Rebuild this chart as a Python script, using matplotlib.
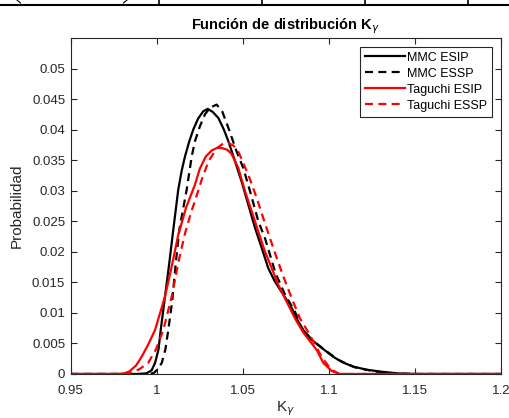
import matplotlib
matplotlib.use("Agg")
import matplotlib.pyplot as plt
from matplotlib.lines import Line2D

plt.rcParams['font.family'] = ['Liberation Sans', 'DejaVu Sans']

# MMC ESIP (black solid)
k_mmc_esip = [0.95, 0.990, 0.994, 0.997, 0.999, 1.0010, 1.0023, 1.0048, 1.0073, 1.0096, 1.0125,
              1.0145, 1.0164, 1.0188, 1.0212, 1.0240, 1.0270, 1.0296, 1.0325, 1.0358, 1.0390,
              1.0416, 1.0455, 1.0493, 1.0532, 1.0571, 1.0610, 1.0648, 1.0687, 1.0735, 1.0784,
              1.0822, 1.0851, 1.0900, 1.0948, 1.1026, 1.1080, 1.1142, 1.1220, 1.1297, 1.14,
              1.15, 1.2]
p_mmc_esip = [0.0, 0.0, 0.0001, 0.0006, 0.0018, 0.0040, 0.0072, 0.0127, 0.0182, 0.0236, 0.0302,
              0.0333, 0.0356, 0.0380, 0.0400, 0.0418, 0.0430, 0.0434, 0.0429, 0.0419, 0.0400,
              0.0381, 0.0348, 0.0315, 0.0277, 0.0239, 0.0206, 0.0173, 0.0151, 0.0130, 0.0108,
              0.0086, 0.0072, 0.0056, 0.0045, 0.0028, 0.0019, 0.0012, 0.0007, 0.0004, 0.0001,
              0.0, 0.0]

# MMC ESSP (black dashed)
k_mmc_essp = [0.95, 0.996, 0.9985, 1.0005, 1.0029, 1.0050, 1.0067, 1.0090, 1.0110, 1.0131, 1.0174,
              1.0203, 1.0222, 1.0250, 1.0280, 1.0310, 1.0348, 1.0380, 1.0416, 1.0464, 1.0503,
              1.0542, 1.0590, 1.0629, 1.0690, 1.0745, 1.0803, 1.0841, 1.0900, 1.0977, 1.1055,
              1.1150, 1.1250, 1.1350, 1.15, 1.2]
p_mmc_essp = [0.0, 0.0, 0.0002, 0.0008, 0.0018, 0.0040, 0.0072, 0.0120, 0.0180, 0.0236, 0.0302,
              0.0356, 0.0381, 0.0405, 0.0425, 0.0436, 0.0441, 0.0430, 0.0403, 0.0364, 0.0337,
              0.0299, 0.0250, 0.0222, 0.0165, 0.0130, 0.0102, 0.0075, 0.0056, 0.0039, 0.0023,
              0.0011, 0.0005, 0.0001, 0.0, 0.0]

# Taguchi ESIP (red solid)
k_tag_esip = [0.95, 0.978, 0.981, 0.984, 0.988, 0.9912, 0.9950, 0.9990, 1.0048, 1.0090, 1.0125,
              1.0170, 1.0222, 1.0250, 1.0285, 1.0320, 1.0350, 1.0377, 1.0410, 1.0435, 1.0474,
              1.0513, 1.0552, 1.0590, 1.0629, 1.0668, 1.0706, 1.0764, 1.0803, 1.0851, 1.0930,
              1.0968, 1.1016, 1.1060, 1.2]
p_tag_esip = [0.0, 0.0, 0.0001, 0.0004, 0.0014, 0.0028, 0.0048, 0.0072, 0.0127, 0.0180, 0.0228,
              0.0272, 0.0310, 0.0336, 0.0356, 0.0366, 0.0370, 0.0370, 0.0367, 0.0360, 0.0337,
              0.0299, 0.0266, 0.0233, 0.0200, 0.0173, 0.0146, 0.0113, 0.0091, 0.0068, 0.0039,
              0.0018, 0.0005, 0.0, 0.0]

# Taguchi ESSP (red dashed)
k_tag_essp = [0.95, 0.982, 0.986, 0.990, 0.995, 0.9995, 1.0038, 1.0087, 1.0125, 1.0164, 1.0200,
              1.0232, 1.0261, 1.0300, 1.0350, 1.0385, 1.0416, 1.0445, 1.0474, 1.0532, 1.0581,
              1.0619, 1.0658, 1.0697, 1.0735, 1.0784, 1.0832, 1.0881, 1.0958, 1.1010, 1.1060,
              1.2]
p_tag_essp = [0.0, 0.0, 0.0003, 0.0008, 0.0018, 0.0040, 0.0072, 0.0127, 0.0182, 0.0230, 0.0265,
              0.0292, 0.0318, 0.0348, 0.0370, 0.0377, 0.0378, 0.0374, 0.0364, 0.0326, 0.0288,
              0.0255, 0.0222, 0.0190, 0.0160, 0.0124, 0.0091, 0.0068, 0.0028, 0.0008, 0.0,
              0.0]

x_ticks = [0.95, 1.0, 1.05, 1.1, 1.15, 1.2]
x_tick_labels = ['0.95', '1', '1.05', '1.1', '1.15', '1.2']
y_ticks = [0, 0.005, 0.01, 0.015, 0.02, 0.025, 0.03, 0.035, 0.04, 0.045, 0.05]
y_tick_labels = ['0', '0.005', '0.01', '0.015', '0.02', '0.025', '0.03', '0.035', '0.04', '0.045', '0.05']

fig = plt.figure(figsize=(5.10, 4.18), dpi=100)
ax = fig.add_axes([0.1386, 0.1053, 0.8438, 0.8038])

lw = 1.6
dash = (0, (3.6, 2.4))
common = dict(lw=lw, solid_joinstyle='round', dash_joinstyle='round')
ax.plot(k_mmc_esip, p_mmc_esip, color='black', label='MMC ESIP', **common)
ax.plot(k_mmc_essp, p_mmc_essp, color='black', linestyle=dash, label='MMC ESSP', **common)
ax.plot(k_tag_esip, p_tag_esip, color='red', label='Taguchi ESIP', **common)
ax.plot(k_tag_essp, p_tag_essp, color='red', linestyle=dash, label='Taguchi ESSP', **common)

ax.set_xlim(0.95, 1.2)
ax.set_ylim(0, 0.055)
ax.set_xticks(x_ticks)
ax.set_xticklabels(x_tick_labels)
ax.set_yticks(y_ticks)
ax.set_yticklabels(y_tick_labels)
ax.tick_params(direction='in', length=4.5, width=0.8, top=True, right=True,
               labelsize=9.5, colors='#262626', pad=4)
ax.tick_params(axis='x', pad=8)
for s in ax.spines.values():
    s.set_linewidth(0.8)
    s.set_color('#262626')

ax.set_title(r'Función de distribución K$_\gamma$', fontsize=10.5, fontweight='bold', pad=6)
ax.set_xlabel(r'K$_\gamma$', fontsize=11, color='#262626', labelpad=2)
ax.set_ylabel('Probabilidad', fontsize=11, color='#262626', labelpad=6)

leg = ax.legend(loc='upper right', fontsize=9, frameon=True, fancybox=False,
                edgecolor='#262626', framealpha=1, handlelength=3.2, handletextpad=0.2,
                borderpad=0.4, labelspacing=0.32, borderaxespad=0.7)
leg.get_frame().set_linewidth(0.8)

# cropped table from the page above
fig.add_artist(Line2D([0, 1], [1 - 5 / 418, 1 - 5 / 418], color='black', lw=1.5))
for xp in [158.7, 262, 365, 467.7]:
    fig.add_artist(Line2D([xp / 510, xp / 510], [1, 1 - 5 / 418], color='black', lw=1.2))
fig.add_artist(Line2D([17 / 510, 20.5 / 510], [1, 1 - 3 / 418], color='black', lw=0.8))
fig.add_artist(Line2D([127 / 510, 123.5 / 510], [1, 1 - 3 / 418], color='black', lw=0.8))

fig.savefig('out.png', dpi=100)
